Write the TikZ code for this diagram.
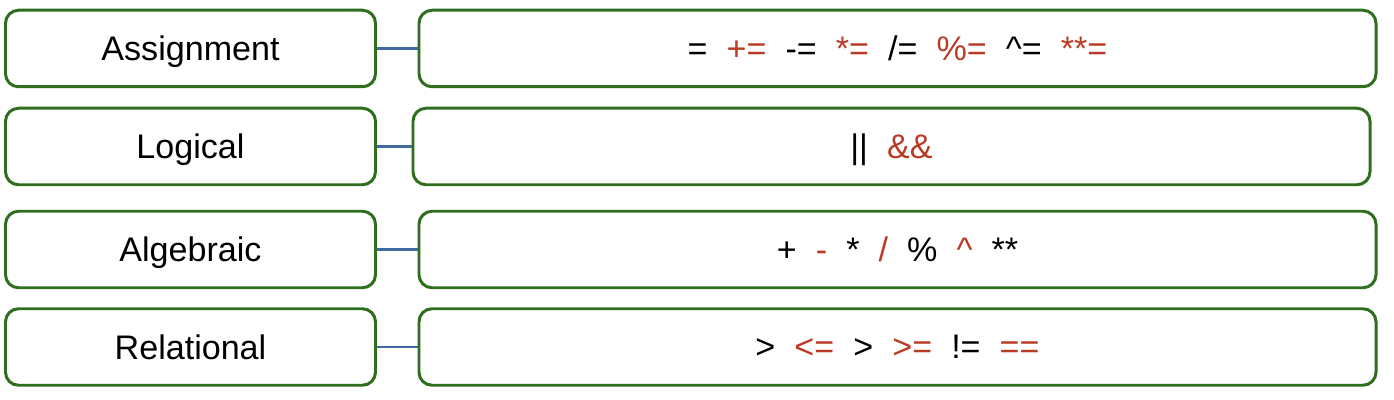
\documentclass[tikz,border=0pt]{standalone}
\usepackage{fontspec}
\setmainfont{Liberation Sans}
\usepackage{tikz}

\definecolor{boxgreen}{RGB}{46,110,30}
\definecolor{opred}{RGB}{186,58,36}
\definecolor{linkblue}{RGB}{66,104,160}
\newcommand{\opgap}{\hspace{0.56em}}
\newcommand{\rd}[1]{\textcolor{opred}{#1}}

\begin{document}
\begin{tikzpicture}[
        kind/.style={draw=boxgreen, line width=1.7pt, rounded corners=0.26cm, inner sep=0pt, text depth=0pt,
            minimum width=7.40cm, minimum height=1.53cm, font=\fontsize{19.4}{23}\selectfont},
        ops/.style={kind, minimum width=19.14cm},
        link/.style={draw=linkblue, line width=1.6pt}
    ]
            \useasboundingbox (0.00,0.00) rectangle (27.88,8.00);
            % operator kinds
            \node[kind] (asg) at (3.81,7.03) {Assignment};
            \node[kind] (lgc) at (3.81,5.07) {Logical};
            \node[kind] (alg) at (3.81,3.01) {Algebraic};
            \node[kind] (rel) at (3.81,1.06) {Relational};
            % operator lists
            \node[ops] (asgop) at (17.95,7.03) {=\opgap\rd{+=}\opgap-=\opgap\rd{*=}\opgap/=\opgap\rd{\%=}\opgap\textasciicircum=\opgap\rd{**=}};
            \node[ops] (lgcop) at (17.83,5.07) {||\opgap\rd{\&\&}};
            \node[ops] (algop) at (17.95,3.01) {+\opgap\rd{-}\opgap*\opgap\rd{/}\opgap\%\opgap\rd{\textasciicircum}\opgap**};
            \node[ops] (relop) at (17.95,1.06) {>\opgap\rd{<=}\opgap>\opgap\rd{>=}\opgap!=\opgap\rd{==}};
            % links
            \draw[link] (asg.east) -- (asgop.west);
            \draw[link] (lgc.east) -- (lgcop.west);
            \draw[link] (alg.east) -- (algop.west);
            \draw[link] (rel.east) -- (relop.west);
        \end{tikzpicture}
\end{document}
